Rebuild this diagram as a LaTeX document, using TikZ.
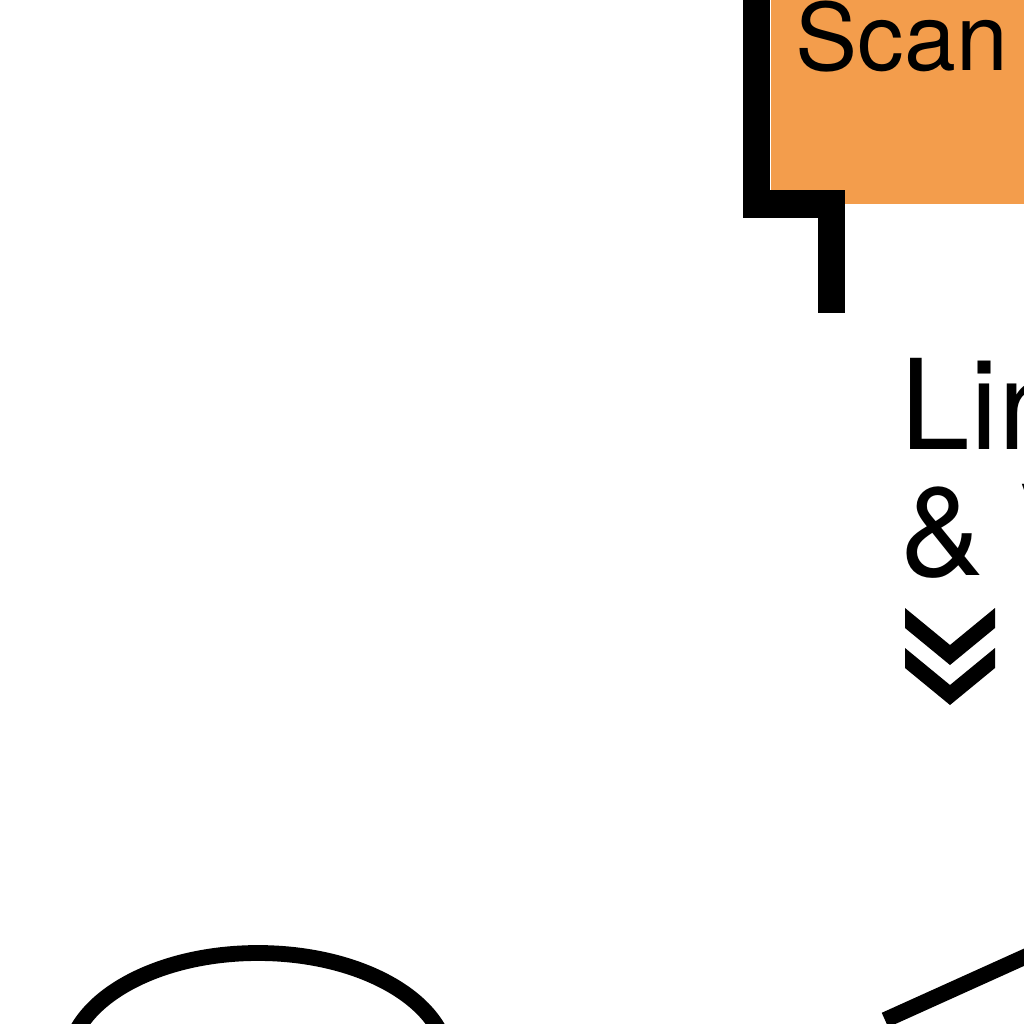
\documentclass[tikz,border=0pt]{standalone}
\usepackage{fontspec}
\setmainfont{TeX Gyre Heros}
\usetikzlibrary{shapes.geometric}
\definecolor{scanorange}{HTML}{F39D4C}
\tikzset{
  scanbox/.style={fill=scanorange, inner sep=0pt, minimum width=4cm, minimum height=2.6cm, anchor=south west},
  bracket/.style={line width=7.7pt, miter limit=10},
  outline/.style={draw, line width=4.5pt},
}
\begin{document}
\begin{tikzpicture}
\useasboundingbox (0,0) rectangle (10.24,-10.24);
% orange step box
\node[scanbox] (scan) at (7.70,-2.05) {};
\node[anchor=base west, inner sep=0pt, font=\fontsize{26.5}{26.5}\selectfont] (scanlbl) at (7.95,-0.70) {Scan};
\coordinate (brtop) at (7.565,0.3);
\coordinate (brend) at (8.315,-3.13);
\draw[bracket] (brtop) |- (8.315,-2.04) -- (brend);
% label with chevrons
\node[anchor=base west, inner sep=0pt, align=left, font=\fontsize{35.6}{35.6}\selectfont] (lbl) at (9.00,-5.75) {Lin\\\& V};
\foreach \dy in {0,-0.40}
  \fill[yshift=\dy cm] (9.05,-6.08) -- (9.50,-6.45) -- (9.95,-6.08) -- (9.95,-6.28) -- (9.50,-6.65) -- (9.05,-6.28) -- cycle;
% lower shapes
\node[outline, ellipse, minimum width=3.8cm, minimum height=2.22cm] (oval) at (2.58,-10.64) {};
\coordinate (l1) at (8.85,-10.20);
\coordinate (l2) at (10.60,-9.41);
\draw[line width=4.5pt] (l1) -- (l2);
\end{tikzpicture}
\end{document}
